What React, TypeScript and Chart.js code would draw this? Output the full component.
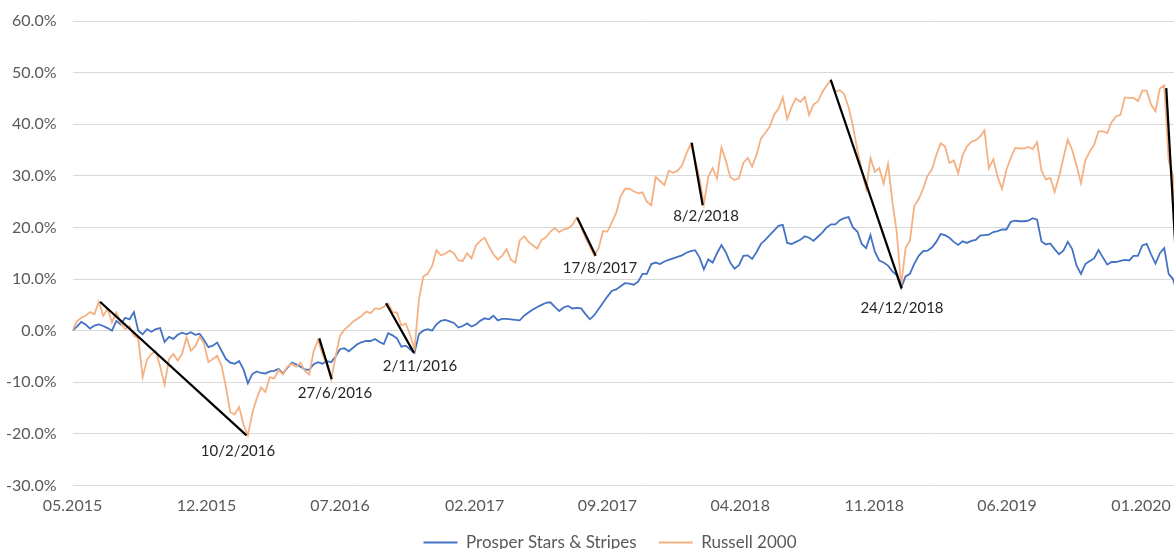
import React, { useEffect, useRef } from 'react';
import { Chart, registerables } from 'chart.js';

Chart.register(...registerables);

// ---- data (percent change since start; one value per week) ----
const START_DATE = Date.UTC(2015, 4, 1);
const DAY_MS = 86400000;
const STEP_DAYS = 7;
const X_MAX_DAYS = 1832;

const tickLabels = ['05.2015', '12.2015', '07.2016', '02.2017', '09.2017', '04.2018', '11.2018', '06.2019', '01.2020'];
const seriesNames = ['Prosper Stars & Stripes', 'Russell 2000'];

const prosper = [
  0.0, 0.8, 1.7, 1.2, 0.4, 1.0, 1.2, 0.9, 0.5, 0.0,
  1.9, 1.2, 2.5, 2.2, 3.6, 0.0, -0.7, 0.3, -0.2, 0.3,
  0.5, -2.2, -1.2, -1.6, -0.8, -0.4, -0.7, -0.3, -0.8, -0.6,
  -1.8, -3.2, -2.9, -2.3, -3.9, -5.5, -6.2, -6.4, -5.9, -7.5,
  -10.2, -8.4, -7.9, -8.2, -8.3, -7.9, -7.8, -7.4, -8.3, -7.2,
  -6.2, -6.5, -7.0, -7.5, -7.6, -6.5, -6.1, -6.4, -5.9, -6.1,
  -5.0, -3.6, -3.4, -4.0, -3.3, -2.6, -2.2, -2.0, -2.0, -1.6,
  -2.2, -2.6, -0.5, -0.9, -1.5, -3.1, -2.9, -3.6, -4.3, -0.7,
  0.0, 0.3, 0.0, 1.2, 1.9, 2.1, 1.8, 1.5, 0.6, 0.9,
  1.4, 0.8, 1.2, 1.9, 2.4, 2.2, 2.9, 2.0, 2.3, 2.3,
  2.2, 2.1, 2.0, 2.9, 3.5, 4.1, 4.6, 5.0, 5.4, 5.5,
  4.6, 3.8, 4.5, 4.8, 4.3, 4.4, 4.3, 3.2, 2.2, 3.0,
  4.2, 5.4, 6.6, 7.7, 8.0, 8.6, 9.2, 9.1, 8.9, 9.5,
  11.0, 11.0, 12.9, 13.2, 12.9, 13.4, 13.7, 14.0, 14.3, 14.6,
  15.1, 15.4, 15.6, 14.2, 11.9, 13.8, 13.2, 15.0, 16.6, 15.2,
  13.2, 12.0, 12.7, 14.5, 14.6, 13.9, 15.2, 16.8, 17.6, 18.5,
  19.4, 20.3, 20.5, 17.0, 16.8, 17.2, 17.6, 18.3, 18.0, 17.4,
  18.2, 19.0, 20.0, 20.6, 20.6, 21.4, 21.8, 22.0, 20.0, 19.2,
  16.8, 16.0, 18.5, 15.3, 13.6, 13.2, 12.6, 11.5, 10.7, 8.3,
  10.5, 11.0, 13.0, 14.5, 15.4, 15.5, 16.1, 17.2, 18.7, 18.5,
  18.0, 17.2, 16.6, 17.3, 17.0, 17.4, 17.6, 18.4, 18.5, 18.6,
  19.1, 19.3, 19.6, 19.6, 21.1, 21.3, 21.2, 21.2, 21.3, 21.8,
  21.5, 17.3, 16.7, 16.9, 15.8, 14.8, 15.5, 17.2, 15.8, 12.6,
  11.0, 12.9, 13.5, 14.0, 15.6, 14.2, 12.8, 13.3, 13.3, 13.5,
  13.7, 13.6, 14.5, 14.5, 16.5, 16.8, 14.8, 13.0, 15.0, 16.0,
  11.0, 10.0, 7.0, 3.0, -1.0,
];

const russell = [
  0.0, 1.8, 2.5, 2.9, 3.6, 3.2, 5.6, 2.9, 4.2, 1.6,
  3.5, 1.5, 0.3, 0.9, -1.0, -1.5, -9.0, -5.6, -4.5, -4.0,
  -7.0, -10.5, -5.5, -4.5, -5.8, -4.5, -1.3, -3.9, -3.0, -1.2,
  -2.5, -6.1, -5.5, -4.9, -6.8, -11.0, -15.8, -16.2, -14.8, -18.2,
  -20.3, -16.0, -13.2, -11.0, -11.9, -9.0, -9.3, -7.6, -8.5, -7.0,
  -6.4, -7.0, -6.2, -7.8, -8.5, -4.0, -1.8, -4.5, -6.5, -9.4,
  -5.0, -1.0, 0.2, 0.9, 1.8, 2.3, 2.9, 3.7, 3.4, 4.3,
  4.2, 4.6, 5.3, 3.6, 3.5, 1.0, 1.4, -0.8, -3.6, 6.0,
  10.5, 11.0, 12.5, 15.6, 14.6, 14.9, 15.5, 15.0, 13.6, 13.5,
  15.0, 14.0, 16.5, 17.4, 18.0, 16.3, 14.8, 13.8, 14.5, 15.8,
  13.7, 13.2, 17.5, 18.3, 17.2, 16.5, 15.9, 17.6, 18.1, 19.2,
  19.9, 19.1, 19.6, 19.8, 20.5, 21.9, 20.0, 18.0, 16.3, 14.6,
  16.0, 19.3, 19.2, 21.0, 22.8, 26.0, 27.5, 27.5, 27.0, 26.6,
  26.8, 25.0, 24.3, 29.8, 29.0, 28.2, 31.0, 30.6, 31.0, 32.0,
  34.3, 36.2, 33.1, 29.5, 24.5, 29.8, 31.5, 29.5, 35.5, 33.0,
  29.8, 29.2, 29.5, 32.5, 33.5, 31.8, 34.0, 37.2, 38.3, 39.5,
  41.8, 43.0, 45.2, 41.0, 43.3, 45.0, 44.3, 45.3, 41.8, 43.8,
  44.4, 46.2, 47.5, 48.6, 46.3, 46.6, 45.8, 43.3, 39.6, 35.0,
  31.2, 27.5, 33.5, 30.8, 31.5, 28.5, 32.3, 25.0, 19.0, 8.7,
  16.0, 17.5, 24.2, 25.5, 27.5, 30.0, 31.2, 34.0, 36.3, 35.7,
  32.5, 33.0, 30.5, 34.0, 35.7, 36.6, 36.9, 37.6, 38.8, 31.5,
  33.2, 29.8, 27.5, 31.2, 33.5, 35.4, 35.3, 35.3, 35.6, 35.2,
  36.5, 31.0, 29.3, 29.6, 26.9, 29.8, 33.5, 37.0, 35.0, 32.0,
  28.6, 33.0, 34.7, 36.0, 38.6, 38.6, 38.3, 40.4, 41.5, 41.8,
  45.2, 45.1, 45.1, 44.5, 46.5, 46.5, 43.8, 42.5, 46.9, 47.5,
  33.0, 30.0, 12.0, -2.0, -12.0,
];

// drawdown annotations: days since start, values in %
const drawdownStartDays = [43.9, 394.0, 500.5, 805.9, 988.6, 1210.5, 1746.2];
const drawdownStartValues = [5.6, -1.5, 5.3, 21.9, 36.4, 48.6, 47.0];
const drawdownEndDays = [277.8, 413.8, 545.2, 835.3, 1006.1, 1323.8, 1775.0];
const drawdownEndValues = [-20.3, -9.4, -4.3, 14.5, 24.3, 8.2, -14.0];
const drawdownLabels = ['10/2/2016', '27/6/2016', '2/11/2016', '17/8/2017', '8/2/2018', '24/12/2018', ''];
const drawdownLabelDays = [264.2, 419.1, 554.9, 842.2, 1011.4, 1324.3, 1780];
const drawdownLabelValues = [-23.3, -12.1, -6.8, 12.1, 22.2, 4.3, -17];

const FONT = 'Lato';
const TEXT_GREY = '#595959';

export default function App() {
  const canvasRef = useRef<HTMLCanvasElement | null>(null);

  useEffect(() => {
    const canvas = canvasRef.current;
    if (!canvas) return;

    const tickDays = tickLabels.map((l) => {
      const [m, y] = l.split('.').map(Number);
      return (Date.UTC(y, m - 1, 1) - START_DATE) / DAY_MS;
    });
    const toPoints = (arr: number[]) => arr.map((v, i) => ({ x: i * STEP_DAYS, y: v }));

    const datasets: any[] = [
      {
        label: seriesNames[0],
        data: toPoints(prosper),
        borderColor: '#4472C4',
        backgroundColor: '#4472C4',
        borderWidth: 1.8,
        pointRadius: 0,
        order: 3,
      },
      {
        label: seriesNames[1],
        data: toPoints(russell),
        borderColor: '#F4B183',
        backgroundColor: '#F4B183',
        borderWidth: 1.8,
        pointRadius: 0,
        order: 2,
      },
      ...drawdownStartDays.map((d, i) => ({
        label: 'drawdown',
        data: [
          { x: d, y: drawdownStartValues[i] },
          { x: drawdownEndDays[i], y: drawdownEndValues[i] },
        ],
        borderColor: '#000000',
        backgroundColor: '#000000',
        borderWidth: 2.2,
        pointRadius: 0,
        order: 1,
      })),
    ];

    const labelPlugin = {
      id: 'drawdownLabels',
      afterDatasetsDraw(chart: any) {
        const { ctx, scales } = chart;
        ctx.save();
        ctx.font = `15px ${FONT}`;
        ctx.fillStyle = '#262626';
        ctx.textAlign = 'center';
        ctx.textBaseline = 'middle';
        drawdownLabels.forEach((t, i) => {
          if (!t) return;
          ctx.fillText(
            t,
            scales.x.getPixelForValue(drawdownLabelDays[i]),
            scales.y.getPixelForValue(drawdownLabelValues[i])
          );
        });
        ctx.restore();
      },
    };

    const chart = new Chart(canvas, {
      type: 'line',
      data: { datasets },
      options: {
        animation: false,
        responsive: false,
        devicePixelRatio: 1,
        layout: { padding: { top: 21, left: 0, right: 0, bottom: 0 } },
        plugins: {
          legend: {
            position: 'bottom',
            labels: {
              filter: (item: any) => item.datasetIndex < 2,
              sort: (a: any, b: any) => a.datasetIndex - b.datasetIndex,
              usePointStyle: true,
              pointStyle: 'line',
              pointStyleWidth: 34,
              padding: 22,
              font: { family: FONT, size: 17 },
              color: TEXT_GREY,
            },
          },
          tooltip: { enabled: false },
        },
        scales: {
          x: {
            type: 'linear',
            min: 0,
            max: X_MAX_DAYS,
            grid: { display: false, drawTicks: false },
            border: { display: false },
            afterBuildTicks: (s: any) => {
              s.ticks = tickDays.map((v) => ({ value: v }));
            },
            afterFit: (s: any) => {
              s.height = 26.5;
            },
            ticks: {
              autoSkip: false,
              maxRotation: 0,
              padding: 11,
              callback: (_v: any, i: number) => tickLabels[i],
              font: { family: FONT, size: 16 },
              color: TEXT_GREY,
            },
          },
          y: {
            min: -30,
            max: 60,
            afterFit: (s: any) => {
              s.width = 72.5;
            },
            grid: {
              color: '#d9d9d9',
              drawTicks: true,
              tickLength: 12,
              tickColor: 'rgba(0,0,0,0)',
              lineWidth: 1,
            },
            border: { display: false },
            ticks: {
              stepSize: 10,
              padding: 4,
              callback: (v: any) => `${Number(v).toFixed(1)}%`,
              font: { family: FONT, size: 16 },
              color: TEXT_GREY,
            },
          },
        },
      } as any,
      plugins: [labelPlugin],
    });

    return () => chart.destroy();
  }, []);

  return (
    <div
      style={{
        position: 'fixed',
        left: 0,
        top: 0,
        width: 1174,
        height: 549,
        overflow: 'hidden',
        background: '#ffffff',
      }}
    >
      <canvas ref={canvasRef} width={1220} height={561} style={{ display: 'block' }} />
    </div>
  );
}
